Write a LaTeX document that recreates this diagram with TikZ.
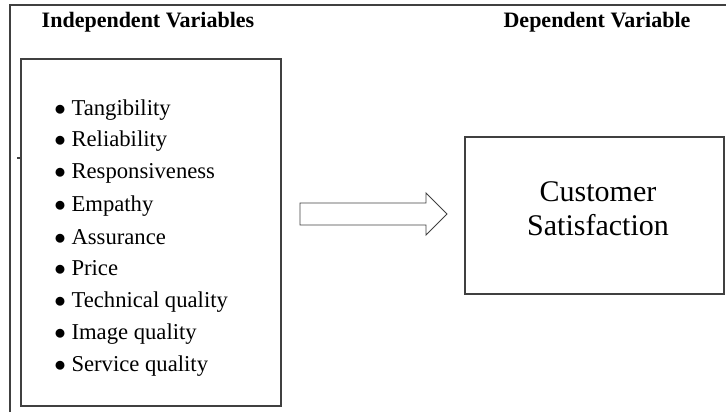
\documentclass[tikz,border=0pt]{standalone}
\usepackage{fontspec}
\setmainfont{Liberation Serif}
\usetikzlibrary{positioning}

\tikzset{
  frameline/.style={draw=black!75,line width=0.9pt},
  heading/.style={font=\fontsize{16.5}{20}\selectfont\bfseries,inner sep=0pt,anchor=base},
  item/.style={font=\fontsize{17}{20}\selectfont,inner sep=0pt,anchor=base west},
  bigtext/.style={font=\fontsize{22.5}{25.5}\selectfont,align=center,inner sep=0pt}
}
\newcommand{\itemdot}{$\bullet$\hspace{4.3pt}}

\begin{document}
\begin{tikzpicture}[x=0.75pt,y=-0.75pt]
    \useasboundingbox (0,0) rectangle (726,412);

    % outer frame
    \draw[frameline] (10,412) -- (10,5) -- (726,5);
    \draw[black!75,line width=0.8pt] (17,158) -- (22,158);

    % headings
    \node[heading] (indep) at (148,27) {Independent Variables};
    \node[heading] (dep) at (597,27) {Dependent Variable};

    % boxes
    \node[frameline,minimum width=195pt,minimum height=260.25pt,inner sep=0pt] (left) at (151,232.5) {};
    \node[frameline,minimum width=194.25pt,minimum height=117.75pt,inner sep=0pt] (right) at (594.5,215.5) {};

    % list
    \node[item] (tang) at (54,115) {\itemdot Tangibility};
    \node[item] (reli) at (54,146) {\itemdot Reliability};
    \node[item] (resp) at (54,178) {\itemdot Responsiveness};
    \node[item] (empa) at (54,211) {\itemdot Empathy};
    \node[item] (assu) at (54,244) {\itemdot Assurance};
    \node[item] (pric) at (54,275) {\itemdot Price};
    \node[item] (tech) at (54,307) {\itemdot Technical quality};
    \node[item] (imag) at (54,339) {\itemdot Image quality};
    \node[item] (serv) at (54,371) {\itemdot Service quality};

    \node[bigtext] (cs) at (598,209) {Customer\\Satisfaction};

    % block arrow
    \draw[frameline,line width=0.7pt] (300,203) -- (426,203) -- (426,193) -- (447,214)
      -- (426,235) -- (426,225) -- (300,225) -- cycle;
\end{tikzpicture}
\end{document}
